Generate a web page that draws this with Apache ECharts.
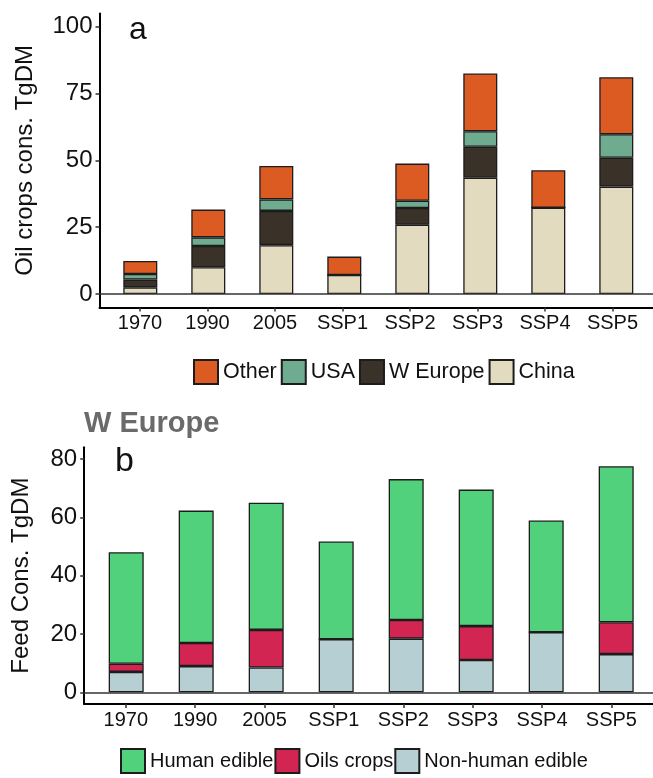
<!DOCTYPE html>
<html>
<head>
<meta charset="utf-8">
<script src="https://cdn.jsdelivr.net/npm/echarts@6/dist/echarts.min.js"></script>
<style>
  html, body { margin: 0; padding: 0; background: #ffffff; }
  #chart { width: 653px; height: 778px; }
</style>
</head>
<body>
<div id="chart"></div>
<script>
// Scenario / year categories shared by both panels
const categories = ['1970', '1990', '2005', 'SSP1', 'SSP2', 'SSP3', 'SSP4', 'SSP5'];

// Panel a: oil crop consumption by consumer region (TgDM)
const oilChina   = [2.5, 10.0, 18.3, 7.1, 25.9, 43.5, 32.3, 40.2];
const oilWEurope = [2.9, 8.0, 12.8, 0, 6.3, 11.6, 0, 10.8];
const oilUSA     = [2.1, 3.2, 4.3, 0, 2.7, 5.8, 0, 8.8];
const oilOther   = [4.9, 10.4, 12.5, 6.9, 13.9, 21.6, 14.0, 21.3];
const oilTicks   = [0, 25, 50, 75, 100];

// Panel b: W Europe feed consumption by feed type (TgDM)
const feedNonHuman = [7.0, 9.0, 8.5, 18.2, 18.4, 11.1, 20.6, 13.1];
const feedOils     = [2.8, 7.9, 12.9, 0, 6.4, 11.6, 0, 10.9];
const feedHuman    = [38.2, 45.4, 43.6, 33.5, 48.3, 46.8, 38.3, 53.5];
const feedTicks    = [0, 20, 40, 60, 80];

const catIdx = categories.map((c, i) => i);

const FONT = 'Liberation Sans, Arial, sans-serif';
const INK = '#111111';
const EDGE = '#1c1c1c';

// Each panel uses two overlapping grids with the same vertical scale:
// an outer frame (axes padded 0.6 band on each side, as in ggplot) and
// an inner band grid holding the stacked category bars.
const panels = [
  { left: 99.5, top: 13.4, height: 294, band: 68, lo: -5, hi: 105 },
  { left: 84.2, top: 447.3, height: 256.7, band: 70, lo: -4, hi: 84 }
];

const grids = [];
panels.forEach(p => {
  grids.push({ left: p.left, top: p.top, width: p.band * 8.2, height: p.height });
  grids.push({ left: p.left + p.band * 0.1, top: p.top, width: p.band * 8, height: p.height });
});

function frameX(gridIndex) {
  return {
    type: 'value', gridIndex: gridIndex, min: -0.6, max: 7.6,
    splitLine: { show: false },
    axisLine: { show: true, onZero: false, lineStyle: { color: '#000', width: 2 } },
    axisTick: { show: true, length: 4, customValues: catIdx, lineStyle: { color: '#333', width: 1.5 } },
    axisLabel: {
      customValues: catIdx, margin: 6,
      formatter: v => categories[Math.round(v)],
      fontFamily: FONT, fontSize: 20, color: INK
    }
  };
}

function bandX(gridIndex) {
  return {
    type: 'category', gridIndex: gridIndex, data: categories, boundaryGap: true,
    axisLine: { show: false }, axisTick: { show: false }, axisLabel: { show: false },
    splitLine: { show: false }
  };
}

function frameY(gridIndex, p, ticks, name, gap) {
  return {
    type: 'value', gridIndex: gridIndex, min: p.lo, max: p.hi,
    name: name, nameLocation: 'middle', nameGap: gap, nameRotate: 90,
    nameTextStyle: { fontFamily: FONT, fontSize: 24, color: INK },
    splitLine: { show: false },
    axisLine: { show: true, onZero: false, lineStyle: { color: '#000', width: 2 } },
    axisTick: { show: true, length: 4, customValues: ticks, lineStyle: { color: '#333', width: 1.5 } },
    axisLabel: { customValues: ticks, margin: 7, fontFamily: FONT, fontSize: 24, color: INK }
  };
}

function bandY(gridIndex, p) {
  return {
    type: 'value', gridIndex: gridIndex, min: p.lo, max: p.hi,
    axisLine: { show: false }, axisTick: { show: false }, axisLabel: { show: false },
    splitLine: { show: false }
  };
}

function barSeries(name, data, color, axisIndex, width, stack) {
  return {
    type: 'bar', name: name, stack: stack,
    xAxisIndex: axisIndex, yAxisIndex: axisIndex,
    data: data, barWidth: width,
    itemStyle: { color: color, borderColor: EDGE, borderWidth: 1.3 },
    emphasis: { disabled: true },
    animation: false, z: 3
  };
}

// Horizontal reference line at zero spanning the whole frame
function zeroLineSeries(axisIndex) {
  return {
    type: 'line', name: 'zero', xAxisIndex: axisIndex, yAxisIndex: axisIndex,
    data: [], silent: true, animation: false, z: 2,
    markLine: {
      silent: true, symbol: 'none', animation: false,
      label: { show: false },
      lineStyle: { color: '#333', width: 1.6, type: 'solid' },
      data: [{ yAxis: 0 }]
    }
  };
}

const series = [
  zeroLineSeries(0),
  barSeries('China',    oilChina,   '#E3DBBF', 1, 34, 'oil'),
  barSeries('W Europe', oilWEurope, '#3A3128', 1, 34, 'oil'),
  barSeries('USA',      oilUSA,     '#6FAB8F', 1, 34, 'oil'),
  barSeries('Other',    oilOther,   '#DC5B22', 1, 34, 'oil'),
  zeroLineSeries(2),
  barSeries('Non-human edible', feedNonHuman, '#B5CFD2', 3, 35, 'feed'),
  barSeries('Oils crops',       feedOils,     '#D22552', 3, 35, 'feed'),
  barSeries('Human edible',     feedHuman,    '#52D17D', 3, 35, 'feed')
];

const chart = echarts.init(document.getElementById('chart'), null, { renderer: 'canvas' });
chart.setOption({
  backgroundColor: '#ffffff',
  animation: false,
  title: [
    { text: 'a', left: 129, top: 14, padding: 0, textStyle: { fontFamily: FONT, fontSize: 32, fontWeight: 'normal', color: INK } },
    { text: 'W Europe', left: 84, top: 409, padding: 0, textStyle: { fontFamily: FONT, fontSize: 29, fontWeight: 'bold', color: '#6a6a6a' } },
    { text: 'b', left: 115, top: 445, padding: 0, textStyle: { fontFamily: FONT, fontSize: 34, fontWeight: 'normal', color: INK } }
  ],
  legend: [
    {
      data: ['Other', 'USA', 'W Europe', 'China'],
      left: 193, top: 359, padding: 0, orient: 'horizontal',
      icon: 'rect', itemWidth: 24, itemHeight: 24, itemGap: 4,
      selectedMode: false,
      textStyle: { fontFamily: FONT, fontSize: 21.5, color: INK }
    },
    {
      data: ['Human edible', 'Oils crops', 'Non-human edible'],
      left: 120, top: 748, padding: 0, orient: 'horizontal',
      icon: 'rect', itemWidth: 24, itemHeight: 24, itemGap: 1,
      selectedMode: false,
      textStyle: { fontFamily: FONT, fontSize: 20, color: INK }
    }
  ],
  grid: grids,
  xAxis: [frameX(0), bandX(1), frameX(2), bandX(3)],
  yAxis: [
    frameY(0, panels[0], oilTicks, 'Oil crops cons. TgDM', 62),
    bandY(1, panels[0]),
    frameY(2, panels[1], feedTicks, 'Feed Cons. TgDM', 51),
    bandY(3, panels[1])
  ],
  series: series
});
</script>
</body>
</html>
